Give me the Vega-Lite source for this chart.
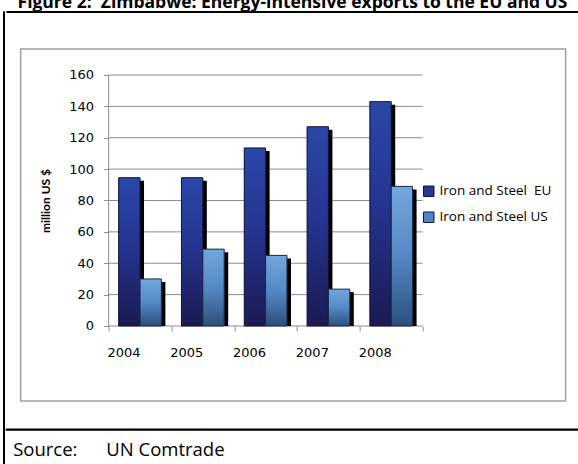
{
  "$schema": "https://vega.github.io/schema/vega-lite/v6.json",
  "background": "white",
  "padding": {"left": 2, "top": -6, "right": 0, "bottom": 0},
  "config": {"view": {"stroke": null}},
  "datasets": {
    "exports": [
      {"year": "2004", "series": "Iron and Steel\u00a0 EU", "value": 94.5},
      {"year": "2004", "series": "Iron and Steel US", "value": 30},
      {"year": "2005", "series": "Iron and Steel\u00a0 EU", "value": 94.5},
      {"year": "2005", "series": "Iron and Steel US", "value": 49},
      {"year": "2006", "series": "Iron and Steel\u00a0 EU", "value": 113.5},
      {"year": "2006", "series": "Iron and Steel US", "value": 45},
      {"year": "2007", "series": "Iron and Steel\u00a0 EU", "value": 127},
      {"year": "2007", "series": "Iron and Steel US", "value": 23.5},
      {"year": "2008", "series": "Iron and Steel\u00a0 EU", "value": 143},
      {"year": "2008", "series": "Iron and Steel US", "value": 89}
    ],
    "grid": [{"v": 0}, {"v": 20}, {"v": 40}, {"v": 60}, {"v": 80}, {"v": 100}, {"v": 120}, {"v": 140}, {"v": 160}]
  },
  "spacing": 0,
  "hconcat": [
    {
      "width": 1, "height": 470,
      "data": {"values": []},
      "mark": "rule",
      "encoding": {},
      "view": {"stroke": "black", "strokeWidth": 1}
    },
    {
      "title": {
        "text": "Figure 2:\u00a0 Zimbabwe: Energy-intensive exports to the EU and US",
        "anchor": "start", "font": "Open Sans", "fontSize": 17.5, "fontWeight": "bold",
        "color": "black", "offset": -1, "dx": 12
      },
      "spacing": 26,
      "center": true,
      "vconcat": [
        {
          "width": 574, "height": 1,
          "data": {"values": []},
          "mark": "rule",
          "encoding": {},
          "view": {"stroke": "black", "strokeWidth": 1}
        },
        {
          "width": 545, "height": 352,
          "view": {"stroke": "#a0a0a0", "strokeWidth": 1.5},
          "title": {"text": "\u00a0", "fontSize": 1, "offset": 8},
          "resolve": {"scale": {"xOffset": "independent"}},
          "layer": [
            {
              "data": {"name": "grid"},
              "mark": {"type": "rule", "color": "#8c8c8c", "strokeWidth": 1},
              "encoding": {
                "y": {"field": "v", "type": "quantitative", "scale": {"domain": [-47.81, 176.57], "nice": false, "zero": false}},
                "x": {"datum": "2004", "type": "ordinal", "bandPosition": 0, "scale": {"type": "band", "paddingInner": 0, "paddingOuter": 0, "range": [88, 402]}},
                "x2": {"datum": "2008", "bandPosition": 1}
              }
            },
            {
              "data": {"values": [{}]},
              "mark": {"type": "rule", "color": "#8c8c8c", "strokeWidth": 1},
              "encoding": {
                "x": {"datum": "2004", "type": "ordinal", "bandPosition": 0, "scale": {"type": "band", "paddingInner": 0, "paddingOuter": 0, "range": [88, 402]}},
                "y": {"datum": 0, "type": "quantitative", "scale": {"domain": [-47.81, 176.57], "nice": false, "zero": false}},
                "y2": {"datum": 160}
              }
            },
            {
              "data": {"name": "exports"},
              "mark": {"type": "bar", "color": "black", "yOffset": 3},
              "encoding": {
                "x": {"field": "year", "type": "ordinal", "scale": {"type": "band", "paddingInner": 0, "paddingOuter": 0, "range": [88, 402]}},
                "xOffset": {"field": "series", "type": "nominal", "scale": {"type": "band", "domain": ["Iron and Steel\u00a0 EU", "Iron and Steel US"], "paddingInner": 0, "paddingOuter": 0.47, "align": 0.699}},
                "y": {"field": "value", "type": "quantitative", "stack": null, "scale": {"domain": [-47.81, 176.57], "nice": false, "zero": false}}
              }
            },
            {
              "data": {"name": "exports"},
              "mark": {"type": "bar"},
              "encoding": {
                "x": {
                  "field": "year", "type": "ordinal",
                  "scale": {"type": "band", "paddingInner": 0, "paddingOuter": 0, "range": [88, 402]},
                  "axis": {
                    "orient": "bottom", "offset": -75, "domain": false, "grid": false,
                    "tickBand": "extent", "tickSize": 5, "tickColor": "#8c8c8c", "tickWidth": 1,
                    "labelFont": "DejaVu Sans", "labelFontSize": 13, "labelColor": "black",
                    "labelPadding": 21, "labelAngle": 0, "title": null
                  }
                },
                "xOffset": {"field": "series", "type": "nominal", "scale": {"type": "band", "domain": ["Iron and Steel\u00a0 EU", "Iron and Steel US"], "paddingInner": 0, "paddingOuter": 0.47, "align": 0.5}},
                "y": {
                  "field": "value", "type": "quantitative", "stack": null,
                  "scale": {"domain": [-47.81, 176.57], "nice": false, "zero": false},
                  "axis": {
                    "orient": "left", "offset": -88, "values": [0, 20, 40, 60, 80, 100, 120, 140, 160],
                    "domain": false, "grid": false, "tickSize": 5, "tickColor": "#8c8c8c", "tickWidth": 1,
                    "labelFont": "DejaVu Sans", "labelFontSize": 13, "labelColor": "black", "labelPadding": 10,
                    "title": "million US $", "titleFont": "Lato", "titleFontSize": 12, "titleFontWeight": "bold",
                    "titleColor": "black", "titleX": -63, "titleY": 151.5, "titleBaseline": "middle", "titleAngle": -90, "titleAlign": "center"
                  }
                },
                "color": {
                  "field": "series", "type": "nominal",
                  "scale": {"domain": ["Iron and Steel\u00a0 EU", "Iron and Steel US"], "range": ["#27378f", "#4f85c2"]},
                  "legend": {
                    "orient": "none", "legendX": 419, "legendY": 173.5, "direction": "vertical",
                    "title": null, "symbolType": "square", "symbolSize": 110,
                    "symbolStrokeColor": "#14143a", "symbolStrokeWidth": 1,
                    "labelFont": "Open Sans", "labelFontSize": 13.5, "labelColor": "black",
                    "rowPadding": 11, "padding": 0, "labelOffset": 4
                  }
                }
              }
            },
            {
              "data": {"name": "exports"},
              "transform": [{"filter": {"field": "series", "equal": "Iron and Steel\u00a0 EU"}}],
              "mark": {
                "type": "bar", "stroke": "#14143a", "strokeWidth": 1,
                "color": {"gradient": "linear", "x1": 0, "y1": 0, "x2": 0, "y2": 1,
                  "stops": [{"offset": 0, "color": "#2a48a8"}, {"offset": 0.45, "color": "#253592"}, {"offset": 1, "color": "#1b1a52"}]}
              },
              "encoding": {
                "x": {"field": "year", "type": "ordinal", "scale": {"type": "band", "paddingInner": 0, "paddingOuter": 0, "range": [88, 402]}},
                "xOffset": {"field": "series", "type": "nominal", "scale": {"type": "band", "domain": ["Iron and Steel\u00a0 EU", "Iron and Steel US"], "paddingInner": 0, "paddingOuter": 0.47, "align": 0.5}},
                "y": {"field": "value", "type": "quantitative", "stack": null, "scale": {"domain": [-47.81, 176.57], "nice": false, "zero": false}}
              }
            },
            {
              "data": {"name": "exports"},
              "transform": [{"filter": {"field": "series", "equal": "Iron and Steel US"}}],
              "mark": {
                "type": "bar", "stroke": "#1a2a48", "strokeWidth": 1,
                "color": {"gradient": "linear", "x1": 0, "y1": 0, "x2": 0, "y2": 1,
                  "stops": [{"offset": 0, "color": "#72a6dc"}, {"offset": 0.5, "color": "#5489c6"}, {"offset": 1, "color": "#2b4f7c"}]}
              },
              "encoding": {
                "x": {"field": "year", "type": "ordinal", "scale": {"type": "band", "paddingInner": 0, "paddingOuter": 0, "range": [88, 402]}},
                "xOffset": {"field": "series", "type": "nominal", "scale": {"type": "band", "domain": ["Iron and Steel\u00a0 EU", "Iron and Steel US"], "paddingInner": 0, "paddingOuter": 0.47, "align": 0.5}},
                "y": {"field": "value", "type": "quantitative", "stack": null, "scale": {"domain": [-47.81, 176.57], "nice": false, "zero": false}}
              }
            }
          ]
        },
        {
          "width": 574, "height": 1,
          "data": {"values": []},
          "mark": "rule",
          "encoding": {},
          "view": {"stroke": "black", "strokeWidth": 1.3},
          "title": {
            "text": "Source:\u00a0\u00a0\u00a0\u00a0\u00a0\u00a0UN Comtrade",
            "orient": "bottom", "anchor": "start", "font": "Open Sans", "fontSize": 18.5,
            "fontWeight": "normal", "color": "black", "offset": 11, "dx": 7
          }
        }
      ]
    }
  ]
}
